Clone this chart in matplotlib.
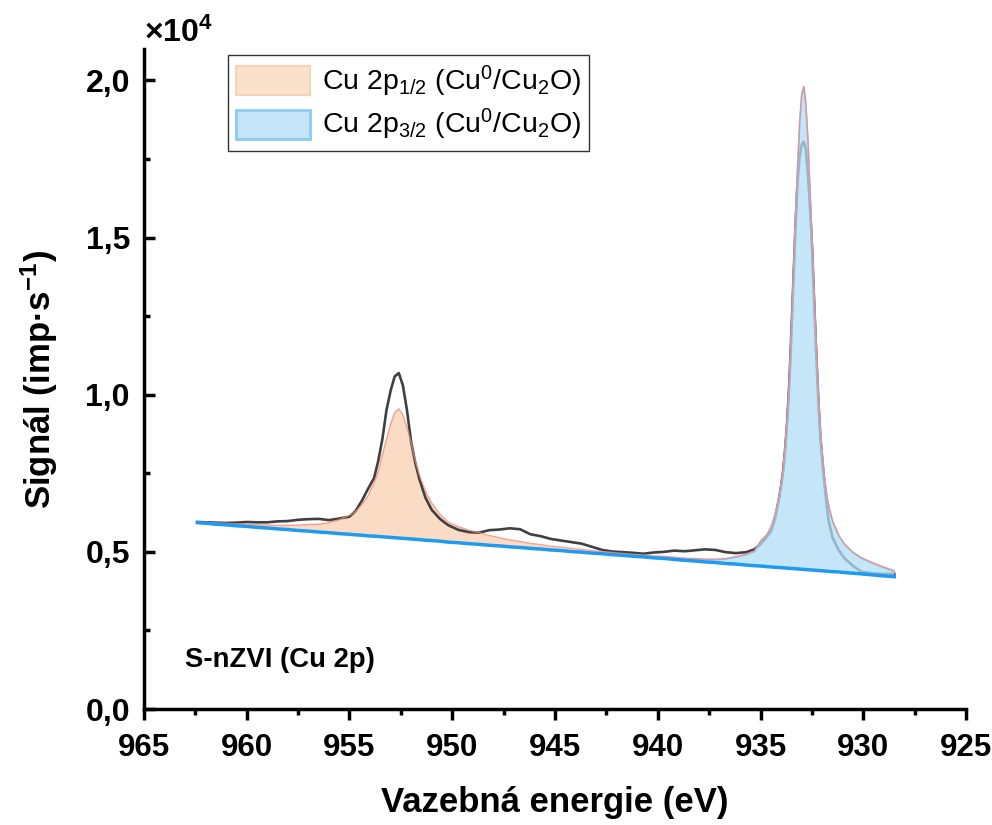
import matplotlib
matplotlib.use("Agg")
import matplotlib.pyplot as plt
import numpy as np
from matplotlib.patches import Patch
from matplotlib.ticker import MultipleLocator, FuncFormatter

plt.rcParams['font.family'] = ['Liberation Sans', 'DejaVu Sans']
plt.rcParams['mathtext.fontset'] = 'custom'
plt.rcParams['mathtext.rm'] = 'Liberation Sans'
plt.rcParams['mathtext.it'] = 'Liberation Sans:italic'
plt.rcParams['mathtext.bf'] = 'Liberation Sans:bold'

# ---- data (signal in units of 1e4 imp/s) ----
energy = [
    962.4, 962.0, 961.5, 961.0, 960.5, 960.0, 959.5, 959.0, 958.5, 958.0, 957.5, 957.0, 956.5, 956.0, 955.5,
    955.0, 954.7, 954.4, 954.1, 953.8, 953.6, 953.4, 953.2, 953.0, 952.8, 952.6, 952.4, 952.2, 952.0, 951.8,
    951.6, 951.3, 951.0, 950.6, 950.2,
    949.7, 949.2, 948.7, 948.2, 947.7, 947.2, 946.7, 946.2, 945.7, 945.2, 944.7, 944.2, 943.7, 943.2, 942.7,
    942.2, 941.7, 941.2, 940.7, 940.2, 939.7, 939.2, 938.7, 938.2, 937.7, 937.2, 936.7, 936.2, 935.7, 935.3,
    935.0, 934.7, 934.5, 934.3, 934.1, 934.0, 933.9, 933.8, 933.7, 933.6, 933.5, 933.4, 933.3, 933.2, 933.1,
    933.0, 932.9, 932.8, 932.7, 932.6, 932.5, 932.4, 932.3, 932.2, 932.1, 932.0, 931.9, 931.8, 931.7, 931.5,
    931.2, 930.9, 930.5, 930.1, 929.6, 929.1, 928.5,
]

baseline = [
    0.593, 0.591, 0.588, 0.586, 0.583, 0.581, 0.578, 0.576, 0.573, 0.571, 0.568, 0.566, 0.563, 0.561, 0.558,
    0.556, 0.554, 0.553, 0.551, 0.550, 0.549, 0.548, 0.547, 0.546, 0.545, 0.544, 0.543, 0.542, 0.541, 0.540,
    0.539, 0.537, 0.536, 0.534, 0.531,
    0.529, 0.526, 0.524, 0.521, 0.519, 0.516, 0.514, 0.511, 0.509, 0.506, 0.504, 0.501, 0.499, 0.496, 0.494,
    0.491, 0.489, 0.486, 0.484, 0.481, 0.479, 0.476, 0.473, 0.471, 0.468, 0.466, 0.463, 0.461, 0.458, 0.456,
    0.455, 0.453, 0.452, 0.451, 0.450, 0.450, 0.449, 0.449, 0.448, 0.448, 0.447, 0.447, 0.446, 0.446, 0.445,
    0.445, 0.444, 0.444, 0.443, 0.443, 0.442, 0.442, 0.441, 0.441, 0.440, 0.440, 0.439, 0.439, 0.438, 0.437,
    0.436, 0.434, 0.432, 0.430, 0.427, 0.424, 0.421,
]

# fitted Cu 2p1/2 component (above baseline)
cu2p12 = [
    0.002, 0.003, 0.004, 0.005, 0.006, 0.007, 0.008, 0.010, 0.011, 0.013, 0.017, 0.021, 0.025, 0.032, 0.044,
    0.060, 0.074, 0.097, 0.127, 0.170, 0.205, 0.260, 0.310, 0.360, 0.398, 0.410, 0.393, 0.352, 0.305, 0.250,
    0.205, 0.155, 0.118, 0.085, 0.063,
    0.050, 0.042, 0.036, 0.030, 0.025, 0.021, 0.018, 0.015, 0.012, 0.010, 0.009, 0.008, 0.007, 0.006, 0.005,
    0.005, 0.004, 0.004, 0.003, 0.003, 0.003, 0.003, 0.002, 0.002, 0.002, 0.002, 0.002, 0.002, 0.002, 0.002,
    0.002, 0.002, 0.002, 0.002, 0.002, 0.002, 0.002, 0.002, 0.002, 0.002, 0.002, 0.002, 0.002, 0.002, 0.002,
    0.002, 0.002, 0.002, 0.002, 0.002, 0.002, 0.002, 0.002, 0.002, 0.002, 0.002, 0.002, 0.002, 0.002, 0.002,
    0.002, 0.002, 0.002, 0.002, 0.002, 0.002, 0.002,
]

# fitted Cu 2p3/2 component (above baseline)
cu2p32 = [
    0.000, 0.000, 0.000, 0.000, 0.000, 0.000, 0.000, 0.000, 0.000, 0.000, 0.000, 0.000, 0.000, 0.000, 0.000,
    0.000, 0.000, 0.000, 0.000, 0.000, 0.000, 0.000, 0.000, 0.000, 0.000, 0.001, 0.001, 0.001, 0.001, 0.001,
    0.001, 0.001, 0.001, 0.001, 0.001,
    0.001, 0.001, 0.001, 0.001, 0.001, 0.001, 0.001, 0.001, 0.002, 0.002, 0.002, 0.002, 0.002, 0.002, 0.002,
    0.002, 0.002, 0.002, 0.003, 0.003, 0.004, 0.004, 0.005, 0.006, 0.007, 0.009, 0.014, 0.022, 0.033, 0.045,
    0.078, 0.100, 0.125, 0.165, 0.225, 0.265, 0.315, 0.390, 0.480, 0.600, 0.760, 0.940, 1.120, 1.280, 1.420,
    1.510, 1.536, 1.480, 1.370, 1.210, 1.050, 0.880, 0.720, 0.570, 0.450, 0.370, 0.300, 0.250, 0.210, 0.160,
    0.115, 0.088, 0.065, 0.050, 0.038, 0.028, 0.017,
]

measured = [
    0.595, 0.594, 0.593, 0.592, 0.593, 0.595, 0.594, 0.594, 0.597, 0.598, 0.602, 0.604, 0.605, 0.601, 0.606,
    0.612, 0.630, 0.662, 0.700, 0.735, 0.789, 0.858, 0.950, 1.012, 1.058, 1.069, 1.030, 0.950, 0.850, 0.784,
    0.732, 0.672, 0.634, 0.605, 0.585,
    0.570, 0.563, 0.561, 0.569, 0.571, 0.575, 0.572, 0.556, 0.550, 0.541, 0.536, 0.531, 0.526, 0.516, 0.506,
    0.501, 0.499, 0.497, 0.494, 0.498, 0.500, 0.504, 0.502, 0.505, 0.508, 0.506, 0.499, 0.496, 0.499, 0.508,
    0.525, 0.548, 0.565, 0.605, 0.670, 0.710, 0.760, 0.830, 0.920, 1.040, 1.200, 1.370, 1.540, 1.680, 1.760,
    1.795, 1.805, 1.780, 1.700, 1.600, 1.470, 1.300, 1.140, 0.990, 0.870, 0.790, 0.720, 0.660, 0.600, 0.545,
    0.505, 0.478, 0.455, 0.437, 0.432, 0.430, 0.430,
]

E = np.array(energy)
base = np.array(baseline)
c1 = np.array(cu2p12)
c2 = np.array(cu2p32)
meas = np.array(measured)

fig = plt.figure(figsize=(9.92, 8.25), dpi=100)
ax = fig.add_axes([0.145, 0.1406, 0.829, 0.80])

orange_fill = '#F9DCC3'
blue_fill = '#B2DEF8'

ax.fill_between(E, base, base + c1, facecolor=orange_fill, edgecolor='none', zorder=1)
ax.plot(E, meas, color='#404040', lw=1.9, zorder=2)
ax.fill_between(E, base, base + c2, facecolor=blue_fill, alpha=0.75, edgecolor='none', zorder=3)
ax.plot(E, base + c2, color='#8CC6EE', lw=1.2, zorder=3.5)
ax.plot(E, base + c1 + c2, color='#F08C80', lw=1.0, alpha=0.8, zorder=4)
ax.plot(E, base, color='#1E9BF0', lw=2.5, zorder=5)

ax.set_xlim(965, 925)
ax.set_ylim(0, 2.1)

ax.spines['top'].set_visible(False)
ax.spines['right'].set_visible(False)
for s in ('left', 'bottom'):
    ax.spines[s].set_linewidth(2.5)

ax.xaxis.set_major_locator(MultipleLocator(5))
ax.xaxis.set_minor_locator(MultipleLocator(2.5))
ax.yaxis.set_major_locator(MultipleLocator(0.5))
ax.yaxis.set_minor_locator(MultipleLocator(0.25))
ax.yaxis.set_major_formatter(FuncFormatter(lambda v, p: f"{v:.1f}".replace('.', ',')))
ax.xaxis.set_major_formatter(FuncFormatter(lambda v, p: f"{v:.0f}"))

ax.tick_params(axis='x', which='major', direction='out', length=8, width=2.5, labelsize=22.5, pad=9)
ax.tick_params(axis='x', which='minor', direction='out', length=4, width=2.5)
ax.tick_params(axis='y', which='major', direction='in', length=8, width=2.5, labelsize=23, pad=10)
ax.tick_params(axis='y', which='minor', direction='in', length=4, width=2.5)
for lab in ax.get_xticklabels() + ax.get_yticklabels():
    lab.set_fontweight('bold')

ax.set_xlabel('Vazebná energie (eV)', fontsize=25, fontweight='bold', labelpad=17)
ax.set_ylabel(r'Signál (imp·s$^{\mathbf{-1}}$)', fontsize=25, fontweight='bold', labelpad=18)

ax.text(0.0, 1.011, r'×10$^{\mathbf{4}}$', transform=ax.transAxes, fontsize=23, fontweight='bold',
        ha='left', va='baseline')
ax.text(963.0, 0.156, 'S-nZVI (Cu 2p)', fontsize=19.8, fontweight='bold', ha='left', va='center')

handles = [
    Patch(facecolor='#FBE0CA', edgecolor='#F7D3B8', lw=1.5),
    Patch(facecolor='#C5E6FA', edgecolor='#8CCBF2', lw=2.0),
]
labels = [r'Cu 2p$_{1/2}$ (Cu$^{0}$/Cu$_{2}$O)', r'Cu 2p$_{3/2}$ (Cu$^{0}$/Cu$_{2}$O)']
leg = ax.legend(handles, labels, loc='upper left', bbox_to_anchor=(0.102, 0.991), fontsize=20.5,
                frameon=True, fancybox=False, edgecolor='black', handlelength=2.6, handleheight=1.2,
                borderpad=0.3, labelspacing=0.3, handletextpad=0.4, borderaxespad=0.0)
leg.get_frame().set_linewidth(1.0)

fig.savefig('out.png', dpi=100)
